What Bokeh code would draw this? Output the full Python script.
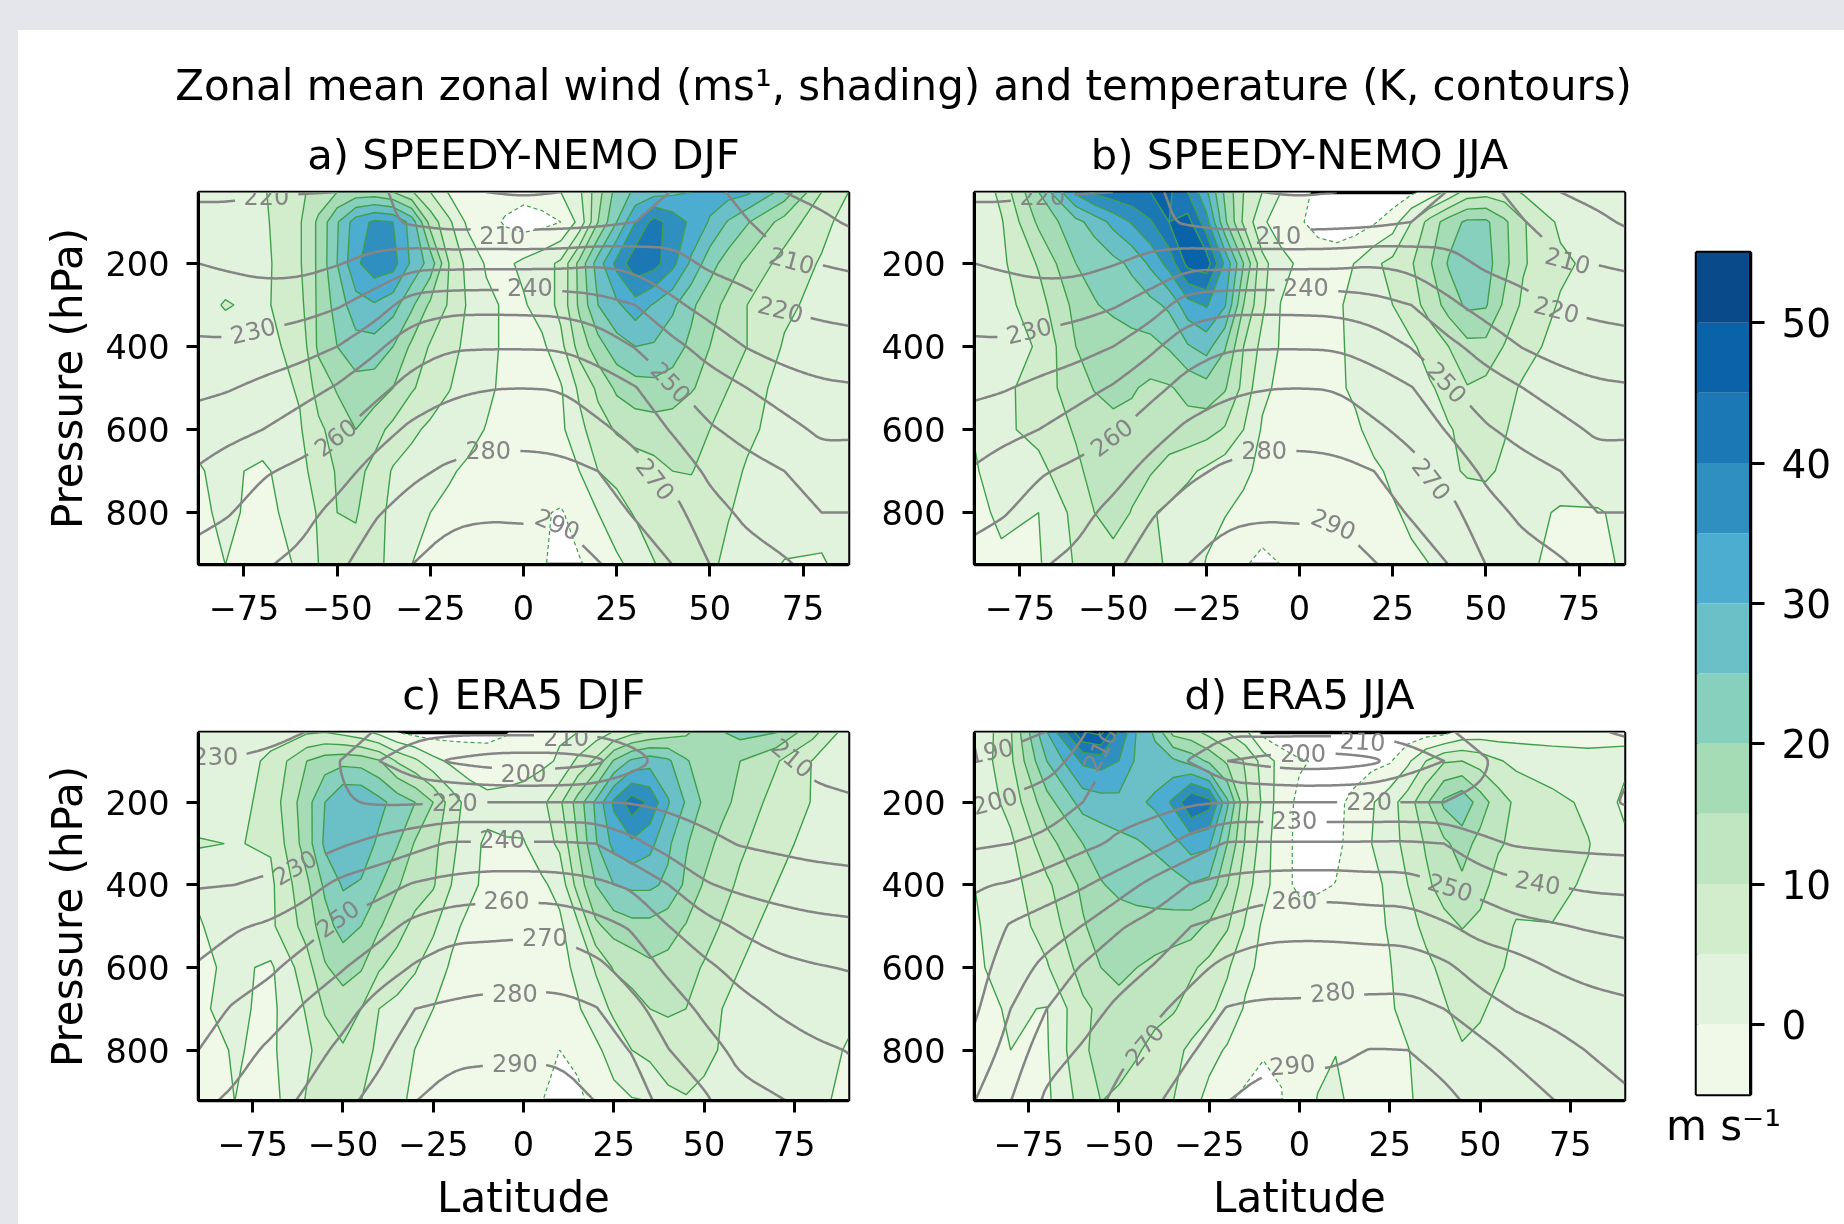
import numpy as np
from bokeh.core.properties import value
from bokeh.embed import file_html
from bokeh.layouts import column, row
from bokeh.models import FixedTicker, Range1d
from bokeh.plotting import figure
from bokeh.plotting.contour import contour_data
from bokeh.resources import INLINE

SUPTITLE = "Zonal mean zonal wind (ms¹, shading) and temperature (K, contours)"
PANEL_TITLES = ["a) SPEEDY-NEMO DJF", "b) SPEEDY-NEMO JJA", "c) ERA5 DJF", "d) ERA5 JJA"]
WIND_LEVELS = list(range(-5, 60, 5))
PALETTE = ["#f0f8e8", "#e1f3dc", "#d2edcc", "#bfe6c0", "#a6dcb5", "#86d0bd",
           "#6ac0c6", "#4cadd1", "#2f90c0", "#1c78b4", "#0a62a9", "#094a8b"]
TEMP_LEVELS = list(range(180, 310, 10))
PRESSURE = [28, 100, 200, 300, 400, 500, 600, 700, 800, 926]
MID_LAT = [-60, -55, -50, -45, -40, -35, -30, -25, -20, -15, -10, -5, 0, 5, 10, 15, 20, 25, 30, 35, 40, 45, 50, 55, 60]
LAT_AB = [-87.2, -80, -70] + MID_LAT + [70, 80, 87.2]
LAT_CD = [-90, -80, -70] + MID_LAT + [70, 80, 90]
TLAT_AB = [-87.2, -80, -70, -60, -50, -40, -30, -20, -10, 0, 10, 20, 30, 40, 50, 60, 70, 80, 87.2]
TLAT_CD = [-90, -80, -70, -60, -50, -40, -30, -20, -10, 0, 10, 20, 30, 40, 50, 60, 70, 80, 90]

U_A = [
 [3,3,4.5,9,12,15,17,17,15,10.5,5,-0.5,-1.5,-2,-3,-3.5,-2.5,0,4,13,22,26,28,29,30,32,32,31,23,10,5],
 [3,3.5,4,9.5,16,24.5,32.5,36,35,28,13,6,-1,-3,-5.5,-7,-6.5,-5,1.5,15,25,35,42,38,34,29.5,24.5,20.5,13,6.5,3],
 [3,3,3.5,9.5,16,25,34,38,37,29,23,10,3.5,-0.5,-1,1,3,6,16.5,27.5,36.5,43.5,42,36.5,29,22,17.5,14,8,4.5,3],
 [3.5,5.3,4,8.5,16,22,28,29.5,27,21,14,9.5,4.5,1,-0.5,-0.5,2,6.5,16,25,29,33,29.5,26,21,17,13.5,10,6,3.5,3],
 [2.5,3,3.5,6.5,16,20,23,23,20,14,9.5,6.5,4,1,-0.5,-0.5,-1,3.5,12,18,23,25,24.5,22,19,15,12.5,10,4.5,2.5,2],
 [1.5,2,2.5,5.5,12,15.5,18,17.5,15,10.5,8,5.2,3,1,-1,-2,-1.5,-0.5,6,11,16,18,18.5,18,15.5,13,10,7.5,3,2,1.5],
 [1,2,3,4.5,9,12,15,12,8.5,6,4,3,1.5,-0.2,-2,-2.5,-2,-1,3.5,8,10.5,12,12.5,12,11,10,8,6,3,1.5,1],
 [-0.3,1,-1,3.5,7,10.5,11.5,8.5,4.5,3,1.5,0.5,-0.7,-1.5,-2.5,-3,-2.5,-1.5,0,5,6.5,7.5,8.5,10,10.2,8.5,6.5,4.5,2.5,1.5,1],
 [-1,1,-1.5,2,5.5,10,10.5,6.5,4,2.5,0,-1,-1.5,-2.5,-3,-3.5,-4.5,-5.5,-2.5,0,3,5.5,7,8,8,7,5.2,4,2.5,1,1],
 [-1.5,0,-2,0.5,5,9,8,6,4,0,-1,-2,-2.5,-3,-3.5,-4,-4.7,-6,-5.5,-3,-1,1.5,4.8,6.5,7.5,5.8,4,2.5,-0.3,-0.3,1],
]
U_B = [
 [0,6.5,20,36,41,43,44,45,46,40,31,19,10,5,0,-3.5,-6,-8,-9,-9,-8,-6,-3,1.5,7,8,7,4.5,3,2,0.5],
 [1,4.5,16,23.5,27,31.5,35.5,39.5,45,47,37,21,9,1,-3,-4.5,-6.5,-8,-7.5,-5.5,-2.5,5,12,17.5,21,21,16,10.5,4,2,0.5],
 [2.5,4,10.5,20,21.5,23.5,26,31,37,46.5,48,34,20,6.5,2,-1,-2.5,-2,0.2,4,6.5,9.5,14.5,20.5,24,22,16.5,10.5,6,3.5,2],
 [1.5,3,8,16.5,19.7,21,22.5,23.5,26,33,35.5,30.5,15,6,-0.2,-1.5,-1.5,-0.5,1,3,5,8,12,17,21,20.5,14,9,4.5,2.5,2],
 [1,2.5,5.5,15,16,17.5,18,18.5,20.5,24.5,27,20.5,10,3.5,-0.5,-1.5,-1.5,-0.5,0.7,1.5,3,4.2,7,10,13.5,13.5,9.7,6.5,3.5,2.5,2],
 [0,3.5,7.5,12.5,15.3,17,15.5,14,14.5,16.5,18,15.5,8.5,1,-1,-2,-2,-0.5,0.5,1.2,2,3,4.5,6.5,9.7,8.5,6.2,4.5,3,2,2],
 [0.2,4,6.5,10.5,12,13,13.5,13.5,13,13,12,9.5,5,-0.5,-1.5,-2.5,-2.5,-1.5,-0.5,1,2,3,4,4.7,6,6,5.2,4,2.5,2,1.5],
 [-0.3,1.5,3.5,9,11.5,12,11.5,10.5,8,6,4,2,0.8,-1,-2,-2.5,-2.5,-1.5,-1,-0.5,0.5,2,3,4.5,5.3,5.5,4.5,3.5,2.5,1.5,1],
 [-1.5,1,0,6.5,10,12,9.8,5.5,4,2.5,1,0.2,-1,-2,-2.5,-3,-2.5,-2,-1.5,-1,-0.3,0.5,1.5,2.5,3.5,3.5,3,1.5,-0.5,-0.2,0.5],
 [-2,-1,-0.5,5.5,7,8,7.5,6,4.5,2,-0.2,-2,-4.5,-6.5,-5,-3.5,-3,-2.5,-2,-1.5,-1,-0.5,0,1,2,2.5,2,0.7,-1,-1,0.5],
]
U_C = [
 [1.5,2,3,4,4.5,3,1,-2,-5.5,-7,-7.5,-7,-6.5,-6,-5.5,-3,-1.5,-0.5,-0.2,2,5,8,10,12,14,17,20,22,20.5,12,2.5],
 [2,2.5,6,15,17.5,18.5,18,15.5,9.5,6,1.5,-1,-2.5,-3.5,-2.5,-2,-1,0.5,6,11,20.5,26,28,26,20.5,17.5,16,15,10.5,4.8,2],
 [2,3,7,18,25,30,30,26.5,23,20,15,7.5,3,1.5,1.5,2,3.5,9,17,26,36,43,39,30.5,24.5,19,16.5,13.5,8,4.8,1.5],
 [5.5,4.8,5.5,17.5,26,29,28,24,20.5,14.5,11.5,6.5,1.5,-0.8,-0.3,-0.3,2.5,6,15,24.5,31.5,34,31.5,26,20.5,17,13.5,11,6.5,3.5,1.5],
 [1,3,4,14,21,25.5,24.5,20.5,15.5,12.5,10.5,5,1,-1,-1.5,-1.5,-0.8,1.5,12,20,25,26,26,24,19,14.5,12,9,5,3,1.5],
 [-0.5,3,4,12,18,22,20,15.5,12,8.5,6,1,-1,-2,-2.5,-2.5,-2,-1,4,14,17,18.5,18.5,17,14.7,12.5,9.5,6.5,3.5,2.5,1.5],
 [-1,1,-0.8,8,14.5,17,15.5,10.5,8,5.5,2,-0.5,-1.5,-2.5,-3,-3,-2.5,-1.5,1,5.5,10.5,12,14,13.5,12,9.5,7.5,5,3,2,1],
 [-0.5,1,-1.2,5.5,10.5,12.5,10,5,3.5,2,0,-1,-2,-3,-3.5,-3.7,-3.5,-2.5,-0.5,2.5,6,8,10,10.5,10,8.5,5,3.5,2.5,1.5,0.5],
 [-1.5,0.3,-0.8,4,7.5,9.5,7,4,2.5,-0.1,-1,-2,-2.5,-3,-3.5,-4,-4.5,-5,-3.5,-1,2,5,6.5,8,8,6.5,4.5,3,2,1,-0.2],
 [-2,0,-2,5.5,7,7.5,5,2.5,1,-1,-2,-2.5,-3,-3.5,-4,-4.5,-4.9,-7,-6.5,-3,-1.5,-0.5,-0.1,3.5,4.5,3.5,2.5,2,1.5,1,-1],
]
U_D = [
 [0,9.5,30,50,52,40,29.5,24,13,11.5,8,4.7,1,-7,-9,-10,-10,-10,-10,-9.5,-9,-8,-7.5,-7,-4,-3,-3,-2.5,-2,-2,-1],
 [1,9,25,36,37,35,29,27,26,23,19,14,9.5,3,-2,-4.5,-5.5,-7,-7,-6.5,-5.5,-1,5,9.5,10,8,5.5,3.7,2,1.5,1],
 [1,6.7,18,27,28,28.5,29,31,36,45,42,26,11,4,-3,-6,-6.5,-6,-4,-0.5,3,7.5,14,21,24,17.5,12.5,9,6.5,4,-1],
 [0,4,13,20,22,23.5,24.5,26,28.5,32,31,20,9.5,2.5,-3.5,-6,-6.5,-6,-3.5,0,3,6.5,10.5,14,17,13.5,10.5,9,7.5,5.2,1],
 [0,3,9,16,19.7,21,21.5,22,23,24.7,23.5,15,7,2,-3.5,-6,-5.7,-4.9,-3,-1,0.7,5,9,12,14,11.5,8.5,6.5,6,4.5,1.5],
 [-0.5,2.5,7,14.5,17,18,18.5,18.5,18,17,14,10.5,4.5,-1,-2,-2.5,-2.5,-2.5,-2,-1,0.3,3.5,6,8.5,10.2,9,6.5,4.7,4.9,3,1.5],
 [-1,2.5,4.5,12,15,16.5,15,13.5,12,10.8,8.5,5.7,1,-1,-2,-2.5,-2.5,-2,-1.5,-1,-0.2,2,4,6,7.5,7.5,5.5,4,3,2,1.5],
 [-1.5,0.5,-0.2,9,11,13,12,11.5,10.5,8,6,3,-0.5,-1.5,-2,-2.5,-2.5,-2,-1.5,-1,-0.3,0.8,2.5,4.5,6.5,5.5,4,3.5,2.5,1.5,1],
 [-2,0,-0.5,9.5,11,12,10.5,8.5,6.5,4,1.5,-0.5,-2,-4.5,-4.5,-2,-1,-0.2,-1.5,-1.5,-1,-0.1,1,3,4.6,4,3.5,3,2,1.5,1],
 [-3,-1,-1,7,10,9,7.5,6,5,1.5,-1.5,-4.5,-6.5,-7,-5.2,-2.5,0.2,1.5,-1.5,-1.5,-1,-0.3,0.7,2,3.5,3,2.5,2.5,2,1,0.5],
]

# temperature: one row per latitude, one value per pressure level
T_A = [
 [222,216,220,225.5,231.5,238,244.5,251,257,264],
 [222,216,219,224.5,231.5,239,247.5,253.5,259,267],
 [221,215,217,225,233.5,242.5,250,259,264,269],
 [220.5,213,217,226,236,246,255,262,266.5,272.5],
 [220,212,219.5,229,240,251,258.5,266,273,278],
 [213,213,223,234.5,248,257,265.5,273.5,279,285],
 [205,208.5,227,245,255.5,263.5,272,278,284,290],
 [201,206,227,247,259,268,275,281.5,287.5,295],
 [200,206.5,227.3,247.2,259.3,269.7,276.5,283,289,295],
 [199,206,227.3,247,259.3,270,276.7,283.3,288.6,295],
 [200,206.5,227.5,246.5,259,269.6,276,282.5,288.6,295],
 [201,207.5,229,243.8,256,264.7,272,280,284.7,290.5],
 [204,210,227,240,249.5,260.5,267,273.5,279,286],
 [210.5,215,223,232,242.5,251,259,267,273.4,280],
 [213,213.5,218.5,226,236,244.5,251,258,263.5,270],
 [206,210.5,216,223,229.5,240,247,253,258,264],
 [200,204.5,211.5,219,226,234.5,243.5,250,255,261],
 [197,202,209.7,217.5,224,231.7,238,245.5,250,257],
 [195,199,208.5,216.5,223.5,231,238,246,250,255],
]
T_B = T_A
T_C = [
 [233,229.5,226,226.5,229.5,235,241,246,250,258],
 [233,229.5,226,226,230,239,245,251,256,262],
 [232.5,228,224.5,226,231.5,241.5,248.5,255,262,266],
 [230,224,222,224.5,236.5,246,254.5,261.5,266,272],
 [225,219.5,220.5,229,243,252,259.5,266.5,272.5,278],
 [219,210,219,233,246.5,256.5,265.5,274,278,283],
 [213,203.5,219,237,251,263,271,280,284.5,290],
 [212,199,220,241,253,266.5,274.7,281.5,287.5,294],
 [212,196,220,241,254.5,267,275,283,288,295],
 [212.5,195,220,241,254.5,267.5,275.5,283,288,295],
 [212,195.5,220,241,254,267,275.5,283,288,295],
 [212,198,220,240,252,263.5,272.5,280.5,284.5,290],
 [214,206,219.8,232.5,248.5,259,266,273,279.5,286],
 [215,213,218.2,225.8,240.2,250.2,258,265.5,270.3,276],
 [214,213,216,222.7,231,244,252,258,264,272],
 [215,214,216,219.5,227.5,238.5,247,253,257.5,263],
 [210,212,214,218,226,234.5,243,249.3,254,261],
 [203,207.5,212.5,217,224,233,240.8,245.5,252,258],
 [200,205,211.5,216.5,223,232,239.5,245,249.7,254],
]
T_D = [
 [183,189,197.5,208.5,219.3,222.7,225.5,228.4,232.8,240],
 [187,193,201.7,210,220.8,231,235.5,240,244,250],
 [190,196,204.5,212.5,225,235,242.8,250,256,262],
 [199,203.5,210,217.7,229,240.3,251,256,261,265],
 [210,213,216.5,221.5,235,249,256,262,267,273],
 [216,214,216.5,226.6,243.7,254,260.7,268,273.7,279],
 [214,209.5,219,234,250.6,260,267,274,279.3,285],
 [212,200,220,241,253,262.7,273,280.5,284.5,290],
 [213,197,220,241,254.5,266.5,275,281.6,287,293.5],
 [213,195,220,241,255,267,275.5,281.5,287.5,294],
 [213,195.5,220,241,255,267,275,282.5,288.5,293],
 [212.5,198,220,241,254,266,275,282.7,290.3,295],
 [214,205,220,241.3,254,265.5,275,283,290,295],
 [218,210,220,240,250,261.5,272,280,285.7,293],
 [225,218,221.5,232.5,246.5,256.5,266,274,283,287],
 [227,225,224.5,229,242,253,264,269.5,277,287],
 [229,226,224,228,240,251,259.5,266.5,274,280.5],
 [228,225,222.5,227.5,238,249,257.5,263,269.6,276],
 [232,221,219.5,227,237.5,247.7,255.7,262,266.5,272],
]

# contour labels: (text, latitude, pressure, rotation in degrees)
LABELS_AB = [(210,-5.7,132,0),(210,72,192,-15),(220,-69,37,0),(220,69,310,-14),(230,-72.6,361,14),
             (240,1.7,256,0),(250,39.6,486,-47),(260,-50.5,618,37),(270,35.5,719,-52),(280,-9.5,650,0),(290,9.2,827,-23)]
LABELS_C = [(230,-85.3,88,0),(210,11.8,43,0),(200,0,128,0),(220,-19,200,0),(240,-5.9,288,0),(230,-63.4,357,30),
            (250,-51.5,481,35),(260,-4.7,437,0),(270,5.9,525,0),(280,-2.4,662,0),(290,-2.4,830,0),(210,74.6,92,-40)]
LABELS_D = [(190,-85.5,75,12),(200,-84.4,196,15),(210,-55.3,71,62),(200,1,80,0),(210,17.5,51,-3),(220,19.3,196,0),
            (230,-1.4,244,0),(240,66,393,-10),(250,41.8,405,-17),(260,-1.4,437,0),(270,-43,786,50),(280,9.2,658,5),(290,-2,835,5)]

FONT = "DejaVu Sans"
GRAY = "#858585"
GREEN = "#3f9f4b"
XTICKS = [-75, -50, -25, 0, 25, 50, 75]
YTICKS = [200, 400, 600, 800]


def style_axes(p, x_label=None, y_label=None):
    for ax in (p.xaxis[0], p.yaxis[0]):
        ax.major_tick_line_width = 3
        ax.major_tick_out = 12
        ax.major_tick_in = 0
        ax.minor_tick_line_color = None
        ax.axis_line_width = 3
        ax.major_label_text_font = FONT
        ax.major_label_text_font_size = "33.5px"
        ax.major_label_text_color = "black"
        ax.axis_label_text_font = FONT
        ax.axis_label_text_font_size = "42px"
        ax.axis_label_text_font_style = "normal"
        ax.axis_label_text_color = "black"
    p.xaxis[0].major_label_standoff = 18
    p.yaxis[0].major_label_standoff = 17
    p.xaxis[0].axis_label_standoff = 14
    p.yaxis[0].axis_label_standoff = 11
    p.xaxis[0].ticker = FixedTicker(ticks=XTICKS)
    p.xaxis[0].major_label_overrides = {t: str(t).replace("-", "\u2212") for t in XTICKS}
    p.yaxis[0].ticker = FixedTicker(ticks=YTICKS)
    if x_label:
        p.xaxis[0].axis_label = x_label
    if y_label:
        p.yaxis[0].axis_label = y_label
    p.grid.visible = False
    p.outline_line_color = "black"
    p.outline_line_width = 3.5
    p.outline_line_alpha = 1


def chaikin(x, y, rounds=2):
    for _ in range(rounds):
        if x.size < 3:
            break
        qx, qy = 0.75 * x[:-1] + 0.25 * x[1:], 0.75 * y[:-1] + 0.25 * y[1:]
        rx, ry = 0.25 * x[:-1] + 0.75 * x[1:], 0.25 * y[:-1] + 0.75 * y[1:]
        nx, ny = np.empty(2 * qx.size), np.empty(2 * qx.size)
        nx[0::2], nx[1::2] = qx, rx
        ny[0::2], ny[1::2] = qy, ry
        x = np.concatenate(([x[0]], nx, [x[-1]]))
        y = np.concatenate(([y[0]], ny, [y[-1]]))
    return x, y


def temperature_lines(lat, pres, temp, labels, xr, yr, frame_w, frame_h):
    sx = frame_w / (xr[1] - xr[0])
    sy = frame_h / (yr[0] - yr[1])
    data = contour_data(lat, pres, temp, TEMP_LEVELS, want_fill=False, want_line=True).line_data
    out_x, out_y = [], []
    for lev, xs, ys in zip(TEMP_LEVELS, data.xs, data.ys):
        xs, ys = np.asarray(xs, float), np.asarray(ys, float)
        if xs.size == 0:
            continue
        breaks = np.where(np.isnan(xs))[0]
        for seg_x, seg_y in zip(np.split(xs, breaks), np.split(ys, breaks)):
            ok = ~np.isnan(seg_x)
            seg_x, seg_y = chaikin(seg_x[ok], seg_y[ok])
            if seg_x.size < 2:
                continue
            t = np.arange(seg_x.size)
            tt = np.linspace(0, seg_x.size - 1, (seg_x.size - 1) * 6 + 1)
            dx, dy = np.interp(tt, t, seg_x), np.interp(tt, t, seg_y)
            keep = np.ones(dx.size, bool)
            for lv, la, pr, rot in labels:
                if lv != lev:
                    continue
                px, py = (dx - la) * sx, -(dy - pr) * sy
                c, s = np.cos(np.radians(rot)), np.sin(np.radians(rot))
                along, across = px * c + py * s, -px * s + py * c
                keep &= ~((np.abs(along) < 31) & (np.abs(across) < 15))
            edges = np.diff(np.concatenate(([0], keep.astype(int), [0])))
            for a, b in zip(np.where(edges == 1)[0], np.where(edges == -1)[0]):
                if b - a > 1:
                    out_x.append(dx[a:b].tolist())
                    out_y.append(dy[a:b].tolist())
    return out_x, out_y


def panel(title, lat, tlat, wind, temp, labels, xr, yr, width, height, left, right, top, bottom,
          x_label=None, y_label=None):
    p = figure(width=width, height=height, x_range=Range1d(*xr), y_range=Range1d(*yr),
               min_border_left=left, min_border_right=right, min_border_top=top, min_border_bottom=bottom,
               toolbar_location=None, output_backend="svg", title=title,
               border_fill_color=None, background_fill_color="white")
    p.title.align = "center"
    p.title.text_font = FONT
    p.title.text_font_size = "41.7px"
    p.title.text_font_style = "normal"
    p.title.text_color = "black"
    p.title.standoff = 28
    W = np.array(wind, float)
    T = np.array(temp, float).T
    p.contour(lat, PRESSURE, W, WIND_LEVELS, fill_color=PALETTE, line_color=None)
    p.contour(lat, PRESSURE, W, WIND_LEVELS[1:], line_color=GREEN, line_width=1.4)
    p.contour(lat, PRESSURE, W, WIND_LEVELS[:1], line_color=GREEN, line_width=1.2, line_dash="4 3")
    fw, fh = width - left - right, height - top - bottom
    lx, ly = temperature_lines(tlat, PRESSURE, T, labels, xr, yr, fw, fh)
    p.multi_line(lx, ly, line_color=GRAY, line_width=2.5, line_join="round")
    p.text(x=[l[1] for l in labels], y=[l[2] for l in labels], text=[str(l[0]) for l in labels],
           angle=[l[3] for l in labels], angle_units="deg", text_align="center", text_baseline="middle",
           text_color=GRAY, text_font=value(FONT), text_font_size="24px")
    style_axes(p, x_label, y_label)
    return p


XR_AB, YR_AB = (-87.2, 87.2), (925, 29)
XR_CD, YR_CD = (-90, 90), (922, 31)
pa = panel(PANEL_TITLES[0], LAT_AB, TLAT_AB, U_A, T_A, LABELS_AB, XR_AB, YR_AB, 870, 528, 190, 30, 80, 76, y_label="Pressure (hPa)")
pb = panel(PANEL_TITLES[1], LAT_AB, TLAT_AB, U_B, T_B, LABELS_AB, XR_AB, YR_AB, 772, 528, 96, 26, 80, 76)
pc = panel(PANEL_TITLES[2], LAT_CD, TLAT_CD, U_C, T_C, LABELS_C, XR_CD, YR_CD, 870, 584, 190, 30, 92, 122, x_label="Latitude", y_label="Pressure (hPa)")
pd_ = panel(PANEL_TITLES[3], LAT_CD, TLAT_CD, U_D, T_D, LABELS_D, XR_CD, YR_CD, 772, 584, 96, 26, 92, 122, x_label="Latitude")

head = figure(width=1642, height=104, x_axis_type=None, y_axis_type=None, toolbar_location=None,
              output_backend="svg", title=SUPTITLE, min_border_left=148, min_border_right=0,
              min_border_top=103, min_border_bottom=0, border_fill_color=None, background_fill_color=None,
              outline_line_color=None)
head.title.align = "center"
head.title.text_font = FONT
head.title.text_font_size = "41.9px"
head.title.text_font_style = "normal"
head.title.text_color = "black"
head.title.standoff = 4
head.grid.visible = False
head.scatter([0], [0], alpha=0)

bar = figure(width=186, height=1216, x_range=Range1d(0, 1), y_range=Range1d(-5, 55), y_axis_location="right",
             toolbar_location=None, output_backend="svg", min_border_left=46, min_border_right=86,
             min_border_top=244, min_border_bottom=130, border_fill_color=None)
bar.quad(left=0, right=1, bottom=WIND_LEVELS[:-1], top=WIND_LEVELS[1:], fill_color=PALETTE, line_color=None)
bar.grid.visible = False
bar.outline_line_color = "black"
bar.outline_line_width = 3.5
yax = bar.yaxis[0]
yax.ticker = FixedTicker(ticks=[0, 10, 20, 30, 40, 50])
yax.major_tick_line_width = 3
yax.major_tick_out = 14
yax.major_tick_in = 0
yax.minor_tick_line_color = None
yax.axis_line_width = 3
yax.major_label_text_font = FONT
yax.major_label_text_font_size = "39px"
yax.major_label_text_color = "black"
yax.major_label_standoff = 17
xax = bar.xaxis[0]
xax.ticker = FixedTicker(ticks=[])
xax.axis_line_color = None
xax.axis_label = "m s\u207b\u00b9"
xax.axis_label_text_font = FONT
xax.axis_label_text_font_size = "42px"
xax.axis_label_text_font_style = "normal"
xax.axis_label_text_color = "black"
xax.axis_label_standoff = 6

page = row(column(head, row(pa, pb), row(pc, pd_)), bar)

html = file_html(page, INLINE)
css = ("<style>html{background:#e4e6eb}body{margin:8px 8px 0 8px}"
       "body::before{content:'';position:fixed;left:18px;top:30px;right:0;bottom:0;background:#fff;z-index:-1}</style>")
html = html.replace("</head>", css + "</head>", 1)
open("out.html", "w").write(html)
